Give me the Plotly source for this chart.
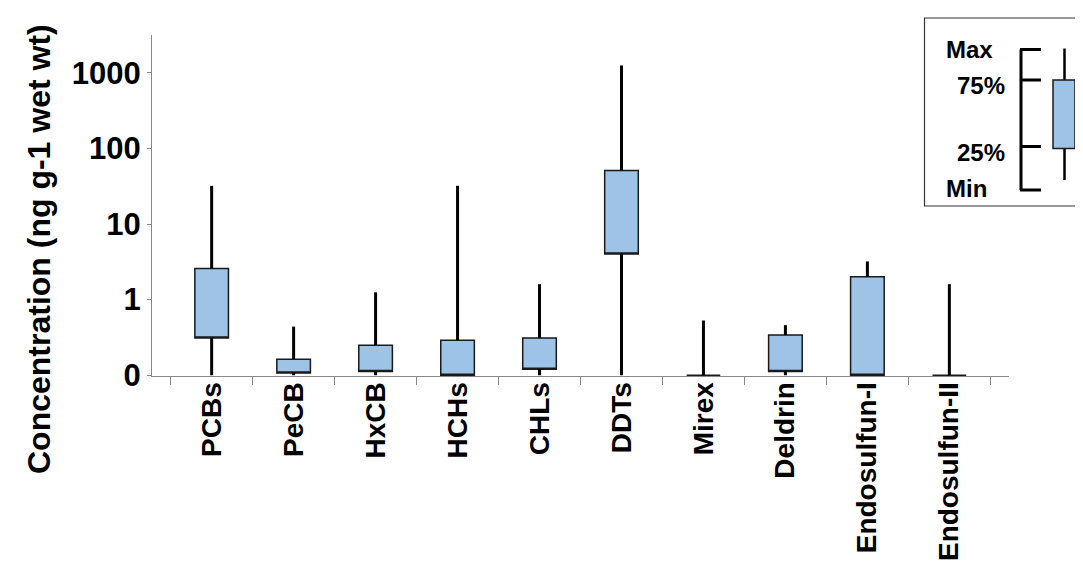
import plotly.graph_objects as go

# ---- data (ng g-1 wet wt); 0 = below detection, drawn at the "0" position of the log axis
categories = ["PCBs", "PeCB", "HxCB", "HCHs", "CHLs", "DDTs", "Mirex",
              "Deldrin", "Endosulfun-I", "Endosulfun-II"]
min_vals = [0, 0, 0, 0, 0, 0, 0, 0, 0, 0]
q1_vals = [0.31, 0.107, 0.112, 0, 0.12, 4.0, 0, 0.112, 0, 0]
q3_vals = [2.58, 0.163, 0.25, 0.29, 0.31, 51.0, 0, 0.34, 2.0, 0]
max_vals = [32.0, 0.44, 1.25, 32.0, 1.6, 1250.0, 0.53, 0.46, 3.2, 1.6]

tick_vals = [0.1, 1, 10, 100, 1000]
tick_text = ["0", "1", "10", "100", "1000"]
ZERO = 0.1  # axis position labelled "0"

FONT = "Liberation Sans, Arial, sans-serif"
BOX_FILL = "#9DC3E6"


def f(v):
    return max(v, ZERO)


lo = [f(v) for v in min_vals]
q1 = [f(v) for v in q1_vals]
q3 = [f(v) for v in q3_vals]
hi = [f(v) for v in max_vals]

fig = go.Figure()

# whiskers (min->q1, q3->max)
wx, wy = [], []
for c, a, b, c3, d in zip(categories, lo, q1, q3, hi):
    wx += [c, c, None, c, c, None]
    wy += [a, b, None, c3, d, None]
fig.add_trace(go.Scatter(x=wx, y=wy, mode="lines",
                         line=dict(color="black", width=3),
                         hoverinfo="skip", showlegend=False))

# boxes
fig.add_trace(go.Box(x=categories, q1=q1, median=q1, q3=q3,
                     lowerfence=q1, upperfence=q3,
                     fillcolor=BOX_FILL, line=dict(color="#1a1a1a", width=1.5),
                     whiskerwidth=0, width=0.41, boxpoints=False,
                     showlegend=False))

W, H = 1083, 572
L, R, T, B = 144, 1001, 27, 368


def px(x):
    return (x - L) / (R - L)


def py(y):
    return (B - y) / (B - T)


shapes = []
# legend frame
shapes.append(dict(type="rect", xref="paper", yref="paper",
                   x0=px(916.5), x1=px(1090), y0=py(198), y1=py(10),
                   line=dict(color="#333333", width=1.2), fillcolor="white", layer="below"))
# bracket
bk = dict(color="black", width=3)
shapes.append(dict(type="line", xref="paper", yref="paper",
                   x0=px(1013), x1=px(1013), y0=py(41.5), y1=py(182), line=bk))
for yy in [41.5, 72, 138.5, 182]:
    shapes.append(dict(type="line", xref="paper", yref="paper",
                       x0=px(1012), x1=px(1033), y0=py(yy), y1=py(yy), line=bk))
# mini box
shapes.append(dict(type="line", xref="paper", yref="paper",
                   x0=px(1056.5), x1=px(1056.5), y0=py(40.5), y1=py(72),
                   line=dict(color="black", width=2.5)))
shapes.append(dict(type="line", xref="paper", yref="paper",
                   x0=px(1056.5), x1=px(1056.5), y0=py(140.5), y1=py(172),
                   line=dict(color="black", width=2.5)))
shapes.append(dict(type="rect", xref="paper", yref="paper",
                   x0=px(1045), x1=px(1067), y0=py(140.5), y1=py(72),
                   line=dict(color="#1a1a1a", width=1.5), fillcolor=BOX_FILL))

annotations = []
for txt, xx, yy in [("Max", 936, 42), ("75%", 947, 77), ("25%", 947, 144), ("Min", 936, 180)]:
    annotations.append(dict(text="<b>" + txt + "</b>", xref="paper", yref="paper",
                            x=px(xx), y=py(yy),
                            xanchor="left", yanchor="middle", showarrow=False,
                            font=dict(family=FONT, size=24, color="black")))
# y-axis title (placed like the original)
annotations.append(dict(text="<b>Concentration (ng g-1 wet wt)</b>", xref="paper", yref="paper",
                        x=px(31), y=py(241), xanchor="center", yanchor="middle",
                        textangle=-90, showarrow=False,
                        font=dict(family=FONT, size=32, color="black")))

fig.update_layout(
    width=W, height=H,
    margin=dict(l=L, r=W - R, t=T, b=H - B, pad=0),
    paper_bgcolor="white", plot_bgcolor="white",
    font=dict(family=FONT, color="black"),
    shapes=shapes, annotations=annotations,
    xaxis=dict(type="category", tickson="boundaries", ticks="outside", ticklen=8,
               tickcolor="#888888", tickwidth=1, showline=True, linecolor="#888888",
               linewidth=1, showgrid=False, zeroline=False, tickangle=-90,
               automargin=False, ticklabelstandoff=-6,
               tickfont=dict(family=FONT, size=28, color="black"),
               tickprefix="<b>", ticksuffix="</b>"),
    yaxis=dict(type="log", range=[-1.01, 3.5], tickvals=tick_vals,
               ticktext=["<b>" + t + "</b>" for t in tick_text],
               ticks="outside", ticklen=4, tickcolor="#888888", showline=True,
               linecolor="#888888", linewidth=1, showgrid=False, zeroline=False,
               automargin=False,
               tickfont=dict(family=FONT, size=31, color="black")),
)

fig.write_html("out.html")
